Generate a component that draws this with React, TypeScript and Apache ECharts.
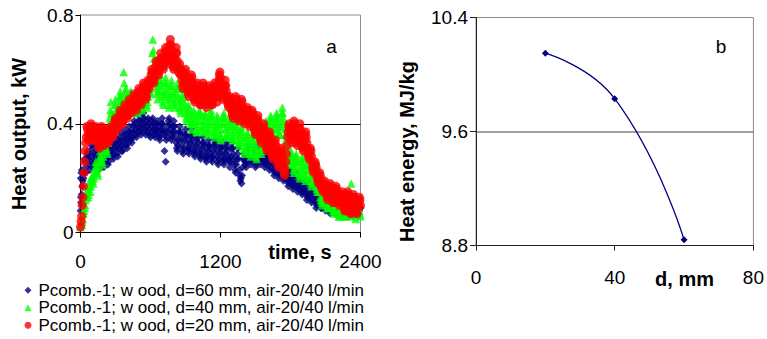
import React, { useEffect, useRef } from "react";
import * as echarts from "echarts";

// ---- Data (left chart: heat output, kW). Readings every 10 s: set A at t = 0,10,...,2400 s,
// set B at t = 5,15,...,2395 s ----
const TIME_STEP_S = 10;
const OFFSET_B_S = 5;

const seriesNames = [
  "Pcomb.-1; w ood, d=60 mm, air-20/40 l/min",
  "Pcomb.-1; w ood, d=40 mm, air-20/40 l/min",
  "Pcomb.-1; w ood, d=20 mm, air-20/40 l/min",
];

// d = 60 mm (navy diamonds)
const blueA = [
  0.08, 0.14, 0.19, 0.22, 0.26, 0.24,
  0.30, 0.27, 0.23, 0.26, 0.31, 0.27,
  0.24, 0.28, 0.32, 0.27, 0.25, 0.29, 0.31, 0.28, 0.24, 0.28, 0.32, 0.29,
  0.26, 0.30, 0.34, 0.30, 0.27, 0.31, 0.35, 0.31, 0.28, 0.33, 0.37, 0.32, 0.30, 0.34, 0.38, 0.34, 0.31, 0.35,
  0.39, 0.35, 0.33, 0.37, 0.41, 0.38, 0.35, 0.39, 0.43, 0.39, 0.36, 0.40, 0.44, 0.40, 0.36, 0.39, 0.42, 0.38, 0.35,
  0.39, 0.42, 0.38, 0.35, 0.38, 0.41, 0.37, 0.34, 0.38, 0.42, 0.38, 0.30, 0.26, 0.35, 0.39, 0.42, 0.38, 0.34, 0.37, 0.41,
  0.37, 0.33, 0.30, 0.34, 0.39, 0.36, 0.32, 0.29, 0.34, 0.38, 0.35, 0.31, 0.29, 0.33, 0.38, 0.34, 0.30, 0.28, 0.32, 0.36, 0.33,
  0.29, 0.27, 0.31, 0.35, 0.32, 0.28, 0.26, 0.30, 0.34, 0.31, 0.28, 0.26, 0.30, 0.34, 0.32, 0.28, 0.25, 0.29, 0.34, 0.31, 0.27, 0.25, 0.29, 0.33, 0.30, 0.27,
  0.24, 0.28, 0.33, 0.29, 0.25, 0.22, 0.27, 0.31, 0.23, 0.19, 0.18, 0.24, 0.29, 0.26,
  0.24, 0.28, 0.32, 0.29, 0.25, 0.27, 0.31, 0.28, 0.24, 0.27, 0.32, 0.29, 0.25, 0.27, 0.31, 0.28, 0.24, 0.26, 0.30, 0.27, 0.23,
  0.26, 0.29, 0.25, 0.21, 0.23, 0.27, 0.24, 0.20, 0.22, 0.26, 0.23, 0.19, 0.21,
  0.24, 0.21, 0.17, 0.19, 0.23, 0.20, 0.16, 0.18, 0.22, 0.19, 0.15, 0.17, 0.20,
  0.17, 0.14, 0.16, 0.19, 0.16, 0.12, 0.14, 0.18, 0.15, 0.11, 0.13, 0.16, 0.13, 0.09, 0.11, 0.15, 0.12, 0.09, 0.10,
  0.13, 0.10, 0.08, 0.10, 0.12, 0.09, 0.07, 0.09, 0.11, 0.09, 0.07, 0.08, 0.11, 0.09, 0.06, 0.08, 0.11, 0.08, 0.06, 0.08, 0.10, 0.08, 0.06, 0.07, 0.10, 0.08, 0.06, 0.07, 0.10, 0.08, 0.06, 0.08, 0.09,
];
const blueB = [
  0.11, 0.17, 0.20, 0.27, 0.22, 0.29,
  0.28, 0.25, 0.29, 0.32, 0.24, 0.29,
  0.26, 0.30, 0.29, 0.23, 0.27, 0.33, 0.26, 0.30, 0.26, 0.30, 0.27, 0.25,
  0.28, 0.32, 0.32, 0.28, 0.29, 0.33, 0.33, 0.29, 0.31, 0.35, 0.34, 0.30, 0.32, 0.36, 0.36, 0.32, 0.33, 0.37,
  0.37, 0.34, 0.35, 0.39, 0.40, 0.36, 0.37, 0.41, 0.41, 0.37, 0.38, 0.42, 0.42, 0.38, 0.37, 0.41, 0.40, 0.36, 0.37,
  0.41, 0.40, 0.36, 0.37, 0.40, 0.39, 0.35, 0.36, 0.40, 0.40, 0.36, 0.37, 0.34, 0.37, 0.41, 0.40, 0.36, 0.35, 0.39, 0.39,
  0.35, 0.31, 0.32, 0.37, 0.37, 0.34, 0.30, 0.31, 0.36, 0.36, 0.33, 0.30, 0.31, 0.35, 0.36, 0.32, 0.29, 0.30, 0.34, 0.35, 0.31,
  0.28, 0.29, 0.33, 0.33, 0.30, 0.27, 0.28, 0.32, 0.32, 0.29, 0.27, 0.28, 0.32, 0.33, 0.30, 0.26, 0.27, 0.31, 0.32, 0.29, 0.26, 0.27, 0.31, 0.32, 0.28, 0.26,
  0.26, 0.31, 0.31, 0.27, 0.23, 0.25, 0.29, 0.27, 0.21, 0.20, 0.21, 0.27, 0.27, 0.25,
  0.26, 0.30, 0.30, 0.27, 0.26, 0.29, 0.30, 0.26, 0.25, 0.30, 0.30, 0.27, 0.26, 0.29, 0.30, 0.26, 0.25, 0.28, 0.29, 0.25, 0.24,
  0.28, 0.27, 0.23, 0.22, 0.25, 0.26, 0.22, 0.21, 0.24, 0.25, 0.21, 0.20, 0.23,
  0.23, 0.19, 0.18, 0.21, 0.22, 0.18, 0.17, 0.20, 0.21, 0.17, 0.16, 0.19, 0.19,
  0.15, 0.15, 0.18, 0.18, 0.14, 0.13, 0.16, 0.17, 0.13, 0.12, 0.15, 0.15, 0.11, 0.10, 0.13, 0.14, 0.10, 0.09, 0.12,
  0.11, 0.09, 0.09, 0.11, 0.10, 0.08, 0.08, 0.10, 0.10, 0.08, 0.08, 0.10, 0.10, 0.07, 0.07, 0.10, 0.09, 0.07, 0.07, 0.09, 0.09, 0.07, 0.07, 0.09, 0.09, 0.07, 0.07, 0.09, 0.09, 0.07, 0.07, 0.09,
];
const blueStartup = [[2, 0.2], [3, 0.13], [7, 0.22], [12, 0.23], [13, 0.1]];

// d = 40 mm (green triangles)
const greenA = [
  0.02, 0.03, 0.05, 0.08, 0.10, 0.13, 0.16, 0.14, 0.19, 0.17,
  0.21, 0.18, 0.22, 0.26, 0.23, 0.21, 0.26, 0.30, 0.27, 0.25, 0.30, 0.35, 0.31, 0.29,
  0.36, 0.42, 0.48, 0.41, 0.39, 0.44, 0.49, 0.45, 0.42, 0.47, 0.52, 0.48, 0.45, 0.59,
  0.50, 0.53, 0.48, 0.45, 0.49, 0.52, 0.47, 0.44, 0.48, 0.51, 0.47, 0.44, 0.47, 0.51, 0.48, 0.45, 0.48, 0.52, 0.49, 0.46, 0.50, 0.54, 0.51,
  0.60, 0.71, 0.64, 0.57,
  0.53, 0.49, 0.54, 0.58, 0.54, 0.50, 0.47, 0.52, 0.57, 0.53, 0.49, 0.46, 0.51, 0.56, 0.52, 0.48, 0.46,
  0.51, 0.55, 0.50, 0.46, 0.44, 0.49, 0.53,
  0.48, 0.44, 0.41, 0.45, 0.46, 0.42, 0.38, 0.41, 0.45, 0.42, 0.38, 0.37, 0.41, 0.45, 0.43, 0.39, 0.37,
  0.41, 0.44, 0.40, 0.36, 0.38, 0.42, 0.45, 0.41, 0.37, 0.35, 0.39, 0.43, 0.40, 0.36, 0.34, 0.38, 0.42, 0.44, 0.40, 0.36, 0.35, 0.39, 0.43, 0.39, 0.35, 0.34, 0.38, 0.42, 0.39,
  0.35, 0.32, 0.36, 0.39, 0.35, 0.31, 0.29, 0.33, 0.37, 0.34, 0.30, 0.28, 0.32, 0.36, 0.33, 0.29, 0.27, 0.31, 0.36, 0.33, 0.29, 0.31, 0.35,
  0.38, 0.41, 0.37, 0.35, 0.39, 0.43, 0.40, 0.36, 0.35, 0.40, 0.44, 0.41, 0.37, 0.36, 0.41, 0.46, 0.42, 0.38,
  0.34, 0.30, 0.27, 0.25, 0.29,
  0.28, 0.25, 0.22, 0.26, 0.29, 0.26, 0.22, 0.20, 0.24, 0.28, 0.25, 0.21, 0.19, 0.23, 0.26, 0.23, 0.19, 0.17, 0.21, 0.24, 0.21,
  0.17, 0.15, 0.18, 0.15, 0.12, 0.10, 0.14, 0.16, 0.13, 0.10, 0.09, 0.12, 0.15, 0.12,
  0.09, 0.07, 0.10, 0.13, 0.10, 0.07, 0.06, 0.09, 0.12, 0.09, 0.06, 0.06, 0.09, 0.12, 0.09, 0.06, 0.18, 0.08, 0.11, 0.08, 0.05, 0.08, 0.11, 0.08, 0.06,
];
const greenB = [
  0.03, 0.04, 0.07, 0.09, 0.12, 0.15, 0.13, 0.17, 0.15, 0.20,
  0.19, 0.20, 0.24, 0.24, 0.22, 0.24, 0.28, 0.28, 0.26, 0.28, 0.33, 0.33, 0.30, 0.33,
  0.39, 0.45, 0.44, 0.40, 0.42, 0.47, 0.47, 0.43, 0.45, 0.50, 0.50, 0.46, 0.49, 0.55,
  0.52, 0.50, 0.46, 0.47, 0.51, 0.49, 0.45, 0.46, 0.50, 0.49, 0.45, 0.46, 0.49, 0.49, 0.46, 0.47, 0.50, 0.50, 0.47, 0.48, 0.52, 0.52, 0.55,
  0.66, 0.67, 0.60, 0.55,
  0.51, 0.52, 0.56, 0.56, 0.52, 0.48, 0.50, 0.55, 0.55, 0.51, 0.47, 0.49, 0.54, 0.54, 0.50, 0.47, 0.49,
  0.53, 0.53, 0.48, 0.45, 0.47, 0.51, 0.50,
  0.46, 0.42, 0.43, 0.47, 0.44, 0.40, 0.40, 0.43, 0.44, 0.40, 0.37, 0.39, 0.43, 0.44, 0.41, 0.38, 0.39,
  0.43, 0.42, 0.38, 0.37, 0.40, 0.44, 0.43, 0.39, 0.36, 0.37, 0.41, 0.42, 0.38, 0.35, 0.36, 0.40, 0.43, 0.42, 0.38, 0.35, 0.37, 0.41, 0.41, 0.37, 0.34, 0.36, 0.40, 0.41, 0.37,
  0.33, 0.34, 0.38, 0.37, 0.33, 0.30, 0.31, 0.35, 0.36, 0.32, 0.29, 0.30, 0.34, 0.35, 0.31, 0.28, 0.29, 0.34, 0.35, 0.31, 0.30, 0.33, 0.37,
  0.40, 0.39, 0.36, 0.37, 0.41, 0.42, 0.38, 0.35, 0.38, 0.42, 0.43, 0.39, 0.36, 0.39, 0.44, 0.44, 0.40, 0.36,
  0.32, 0.28, 0.26, 0.27, 0.30,
  0.27, 0.23, 0.24, 0.28, 0.27, 0.24, 0.21, 0.22, 0.26, 0.27, 0.23, 0.20, 0.21, 0.25, 0.25, 0.21, 0.18, 0.19, 0.23, 0.23, 0.19,
  0.16, 0.17, 0.16, 0.13, 0.11, 0.12, 0.15, 0.14, 0.11, 0.09, 0.11, 0.14, 0.13, 0.10,
  0.08, 0.08, 0.12, 0.11, 0.08, 0.06, 0.08, 0.11, 0.10, 0.07, 0.06, 0.08, 0.11, 0.10, 0.07, 0.07, 0.09, 0.10, 0.09, 0.06, 0.07, 0.10, 0.09, 0.07,
];

// d = 20 mm (red circles)
const redA = [
  0.02, 0.06, 0.13, 0.22, 0.30, 0.35,
  0.38, 0.34, 0.37, 0.40, 0.37, 0.34, 0.36,
  0.39, 0.36, 0.33, 0.31, 0.35, 0.39, 0.36, 0.32, 0.34, 0.38, 0.36, 0.33, 0.35, 0.39, 0.37,
  0.36, 0.39, 0.42, 0.40, 0.38, 0.41, 0.45, 0.42, 0.40, 0.43, 0.47, 0.44, 0.42, 0.45, 0.49, 0.46, 0.44,
  0.47, 0.51, 0.48, 0.45, 0.49, 0.53, 0.50, 0.47, 0.51, 0.55, 0.52, 0.49, 0.52, 0.56,
  0.53, 0.56, 0.60, 0.57, 0.55, 0.59, 0.63, 0.60, 0.58, 0.62, 0.66, 0.62,
  0.60, 0.64, 0.68, 0.65, 0.62, 0.66, 0.71, 0.67, 0.63, 0.60, 0.64,
  0.68, 0.63, 0.59, 0.62,
  0.60, 0.56, 0.53, 0.57, 0.60, 0.56, 0.52, 0.50, 0.54, 0.58, 0.55,
  0.51, 0.48, 0.51, 0.55, 0.52, 0.48, 0.47, 0.51, 0.55, 0.52, 0.48, 0.46, 0.50, 0.54, 0.51, 0.48, 0.47,
  0.51, 0.55, 0.52, 0.48, 0.53, 0.58, 0.57, 0.53, 0.49, 0.52, 0.56, 0.52,
  0.48, 0.46, 0.50, 0.47, 0.44, 0.42, 0.46, 0.50, 0.47, 0.43, 0.41, 0.45, 0.49, 0.46, 0.43, 0.40, 0.44,
  0.46, 0.43, 0.39, 0.41, 0.45, 0.42, 0.38, 0.36, 0.40, 0.43, 0.39, 0.35, 0.33, 0.37, 0.40, 0.36, 0.32, 0.30, 0.34, 0.37,
  0.33, 0.29, 0.27, 0.31, 0.34, 0.30, 0.26, 0.24, 0.28, 0.31, 0.27, 0.23, 0.21,
  0.26, 0.32, 0.37, 0.40, 0.36,
  0.33, 0.37, 0.41, 0.38, 0.34, 0.32, 0.36, 0.40, 0.36, 0.32, 0.30, 0.34, 0.37, 0.33, 0.29,
  0.27, 0.31, 0.28, 0.24, 0.22, 0.26, 0.24, 0.20, 0.18, 0.22, 0.19, 0.16,
  0.15, 0.19, 0.17, 0.14, 0.12, 0.16, 0.18, 0.15, 0.12, 0.11, 0.15, 0.17, 0.14,
  0.11, 0.10, 0.13, 0.15, 0.12, 0.09, 0.08, 0.12, 0.15, 0.12, 0.08, 0.07, 0.11, 0.14, 0.11, 0.08, 0.07, 0.10, 0.13, 0.10,
];
const redB = [
  0.04, 0.10, 0.17, 0.26, 0.33, 0.39,
  0.36, 0.35, 0.39, 0.39, 0.35, 0.35, 0.38,
  0.37, 0.34, 0.32, 0.33, 0.37, 0.38, 0.34, 0.33, 0.36, 0.37, 0.34, 0.34, 0.37, 0.38, 0.35,
  0.37, 0.41, 0.41, 0.39, 0.39, 0.43, 0.44, 0.41, 0.41, 0.45, 0.46, 0.43, 0.43, 0.47, 0.48, 0.45, 0.46,
  0.49, 0.50, 0.46, 0.47, 0.51, 0.52, 0.48, 0.49, 0.53, 0.54, 0.50, 0.50, 0.54, 0.55,
  0.55, 0.58, 0.59, 0.56, 0.57, 0.61, 0.62, 0.59, 0.60, 0.64, 0.64, 0.61,
  0.62, 0.66, 0.67, 0.63, 0.64, 0.69, 0.69, 0.65, 0.61, 0.62, 0.66,
  0.66, 0.61, 0.60, 0.58,
  0.58, 0.54, 0.55, 0.59, 0.58, 0.54, 0.51, 0.52, 0.56, 0.57, 0.53,
  0.49, 0.50, 0.53, 0.54, 0.50, 0.47, 0.49, 0.53, 0.54, 0.50, 0.47, 0.48, 0.52, 0.53, 0.49, 0.47, 0.49,
  0.53, 0.54, 0.50, 0.50, 0.56, 0.59, 0.55, 0.51, 0.50, 0.54, 0.54, 0.50,
  0.47, 0.48, 0.49, 0.45, 0.43, 0.44, 0.48, 0.49, 0.45, 0.42, 0.43, 0.47, 0.48, 0.44, 0.41, 0.42, 0.45,
  0.45, 0.41, 0.40, 0.43, 0.44, 0.40, 0.37, 0.38, 0.42, 0.41, 0.37, 0.34, 0.35, 0.39, 0.38, 0.34, 0.31, 0.32, 0.36, 0.35,
  0.31, 0.28, 0.29, 0.33, 0.32, 0.28, 0.25, 0.26, 0.30, 0.29, 0.25, 0.22, 0.23,
  0.29, 0.35, 0.39, 0.38, 0.34,
  0.35, 0.39, 0.40, 0.36, 0.33, 0.34, 0.38, 0.38, 0.34, 0.31, 0.32, 0.36, 0.35, 0.31, 0.28,
  0.29, 0.30, 0.26, 0.23, 0.24, 0.25, 0.22, 0.19, 0.20, 0.21, 0.17, 0.17,
  0.17, 0.18, 0.15, 0.13, 0.14, 0.17, 0.17, 0.13, 0.11, 0.13, 0.16, 0.16, 0.12,
  0.11, 0.12, 0.14, 0.14, 0.10, 0.08, 0.10, 0.14, 0.14, 0.10, 0.07, 0.09, 0.13, 0.13, 0.09, 0.07, 0.09, 0.12, 0.12,
];

// ---- Data (right chart: heat energy, MJ/kg, vs diameter, mm) ----
const diameters = [20, 40, 60];
const heatEnergy = [10.15, 9.83, 8.84];

// ---- Tick settings ----
const timeTicks = { min: 0, max: 2400, interval: 1200 };
const outputTicks = { min: 0, max: 0.8, interval: 0.4 };
const diameterTicks = { min: 0, max: 80, interval: 40 };
const energyTicks = { min: 8.8, max: 10.4, interval: 0.8 };

const FONT = 'Arial, "Liberation Sans", sans-serif';

const toPairs = (vals: number[], offset: number) =>
  vals.map((v, i) => [offset + i * TIME_STEP_S, v]);

function buildOption() {
  const axisLbl = (margin: number) => ({
    show: true,
    margin,
    fontSize: 19,
    color: "#000",
    fontFamily: FONT,
    formatter: (v: number) => String(Math.round(v * 100) / 100),
  });
  const titleStyle = (text: string) => ({
    text,
    font: `bold 20px ${FONT}`,
    fill: "#000",
    textAlign: "center",
    textVerticalAlign: "middle",
  });
  const scatter = (name: string, symbol: string, size: number, color: string, data: number[][]) => ({
    name,
    type: "scatter",
    xAxisIndex: 0,
    yAxisIndex: 0,
    symbol,
    symbolSize: size,
    itemStyle: { color },
    data,
  });
  return {
    animation: false,
    backgroundColor: "#fff",
    grid: [
      { left: 80.5, top: 15, width: 280, height: 217.5, show: true, borderColor: "#8c8c8c", borderWidth: 1 },
      { left: 476, top: 17.5, width: 279, height: 228, show: true, borderColor: "#8c8c8c", borderWidth: 1 },
    ],
    xAxis: [
      {
        gridIndex: 0,
        type: "value",
        ...timeTicks,
        axisLine: { show: true, onZero: false, lineStyle: { color: "#000", width: 1 } },
        axisTick: { show: true, length: 5, lineStyle: { color: "#000" } },
        axisLabel: axisLbl(19),
        splitLine: { show: false },
      },
      {
        gridIndex: 1,
        type: "value",
        ...diameterTicks,
        axisLine: { show: true, onZero: false, lineStyle: { color: "#222", width: 1 } },
        axisTick: { show: true, length: 5, lineStyle: { color: "#222" } },
        axisLabel: axisLbl(22),
        splitLine: { show: false },
      },
    ],
    yAxis: [
      {
        gridIndex: 0,
        type: "value",
        ...outputTicks,
        axisLine: { show: true, onZero: false, lineStyle: { color: "#000", width: 1 } },
        axisTick: { show: true, length: 5, lineStyle: { color: "#000" } },
        axisLabel: axisLbl(7),
        splitLine: { show: true, showMinLine: false, showMaxLine: false, lineStyle: { color: "#000", width: 1 } },
      },
      {
        gridIndex: 1,
        type: "value",
        ...energyTicks,
        axisLine: { show: true, onZero: false, lineStyle: { color: "#222", width: 1 } },
        axisTick: { show: true, length: 6, lineStyle: { color: "#222" } },
        axisLabel: axisLbl(8),
        splitLine: { show: true, showMinLine: false, showMaxLine: false, lineStyle: { color: "#808080", width: 1.5 } },
      },
    ],
    legend: {
      orient: "vertical",
      left: 24.5,
      top: 281.5,
      padding: 0,
      itemGap: 0,
      itemWidth: 7,
      itemHeight: 7,
      textStyle: { fontSize: 17, lineHeight: 17.5, color: "#000", fontFamily: FONT, padding: [0, 0, 0, 2] },
      data: [
        { name: seriesNames[0], icon: "diamond" },
        { name: seriesNames[1], icon: "triangle" },
        { name: seriesNames[2], icon: "circle" },
      ],
    },
    series: [
      scatter(seriesNames[0], "diamond", 8, "#000080",
        toPairs(blueA, 0).concat(toPairs(blueB, OFFSET_B_S), blueStartup)),
      scatter(seriesNames[1], "triangle", 8.5, "#00ff00",
        toPairs(greenA, 0).concat(toPairs(greenB, OFFSET_B_S))),
      scatter(seriesNames[2], "circle", 9, "#ff0000",
        toPairs(redA, 0).concat(toPairs(redB, OFFSET_B_S))),
      {
        name: "Heat energy",
        type: "line",
        xAxisIndex: 1,
        yAxisIndex: 1,
        smooth: true,
        symbol: "diamond",
        symbolSize: 7,
        showAllSymbol: true,
        itemStyle: { color: "#000080" },
        lineStyle: { color: "#000080", width: 1.3 },
        data: diameters.map((d, i) => [d, heatEnergy[i]]),
      },
    ],
    graphic: [
      { type: "text", x: 300, y: 252, style: titleStyle("time, s") },
      { type: "text", x: 684.5, y: 279, style: titleStyle("d, mm") },
      { type: "text", x: 19, y: 134, rotation: Math.PI / 2, style: titleStyle("Heat output, kW") },
      { type: "text", x: 407, y: 151.5, rotation: Math.PI / 2, style: titleStyle("Heat energy, MJ/kg") },
      {
        type: "text",
        x: 331.5,
        y: 46,
        style: { text: "a", font: `19px ${FONT}`, fill: "#000", textAlign: "center", textVerticalAlign: "middle" },
      },
      {
        type: "text",
        x: 721,
        y: 46,
        style: { text: "b", font: `19px ${FONT}`, fill: "#000", textAlign: "center", textVerticalAlign: "middle" },
      },
    ],
  };
}

export default function App() {
  const ref = useRef<HTMLDivElement>(null);
  useEffect(() => {
    if (!ref.current) return;
    const chart = echarts.init(ref.current, null, { renderer: "svg" });
    chart.setOption(buildOption() as any);
    return () => chart.dispose();
  }, []);
  return (
    <div
      ref={ref}
      style={{ position: "fixed", left: 0, top: 0, width: 767, height: 339, background: "#fff" }}
    />
  );
}
